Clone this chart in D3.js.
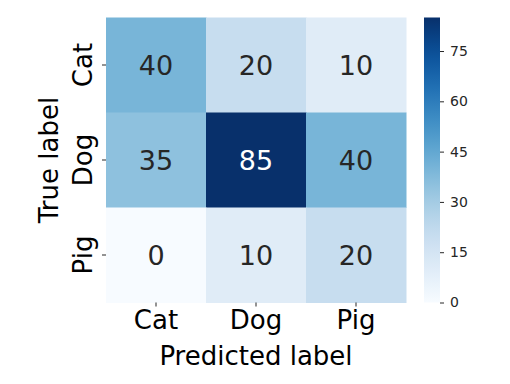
<!DOCTYPE html>
<html>
<head>
<meta charset="utf-8">
<script src="https://cdn.jsdelivr.net/npm/d3@7"></script>
<style>
  body { margin: 0; background: #fff; }
  text { font-family: "DejaVu Sans", sans-serif; }
</style>
</head>
<body>
<script>
// confusion matrix data
const labels = ["Cat", "Dog", "Pig"];
const matrix = [
    [40, 20, 10],
    [35, 85, 40],
    [0, 10, 20]
];
const cbarTicks = [0, 15, 30, 45, 60, 75];

const W = 510, H = 384;
const plot = { left: 106, top: 17.5, width: 300, height: 285 };
const cbar = { left: 424, width: 16 };

const svg = d3.select("body").append("svg")
    .attr("width", W)
    .attr("height", H);

const x = d3.scaleBand().domain(labels).range([plot.left, plot.left + plot.width]);
const y = d3.scaleBand().domain(labels).range([plot.top, plot.top + plot.height]);
const vmax = 85;
const color = d3.scaleSequential(d3.interpolateBlues).domain([0, vmax]);

const cells = [];
matrix.forEach((row, i) => row.forEach((v, j) => cells.push({ t: labels[i], p: labels[j], v })));

svg.append("g").selectAll("rect")
    .data(cells)
    .join("rect")
    .attr("x", d => x(d.p))
    .attr("y", d => y(d.t))
    .attr("width", x.bandwidth() + 0.5)
    .attr("height", y.bandwidth() + 0.5)
    .attr("fill", d => color(d.v));

svg.append("g").selectAll("text")
    .data(cells)
    .join("text")
    .attr("x", d => x(d.p) + x.bandwidth() / 2)
    .attr("y", d => y(d.t) + y.bandwidth() / 2)
    .attr("dy", "0.36em")
    .attr("text-anchor", "middle")
    .attr("font-size", 27)
    .attr("fill", d => d.v > vmax * 0.6 ? "#ffffff" : "#262626")
    .text(d => d.v);

// x axis
const xAxis = svg.append("g")
    .attr("transform", `translate(0,${plot.top + plot.height})`)
    .call(d3.axisBottom(x).tickSize(4).tickPadding(4));
xAxis.select(".domain").remove();
xAxis.selectAll(".tick line").attr("stroke", "#262626");
xAxis.selectAll(".tick text")
    .attr("font-size", 26)
    .attr("fill", "#000")
    .attr("font-family", "DejaVu Sans");

// y axis, rotated labels
const yAxis = svg.append("g")
    .attr("transform", `translate(${plot.left},0)`)
    .call(d3.axisLeft(y).tickSize(4));
yAxis.select(".domain").remove();
yAxis.selectAll(".tick line").attr("stroke", "#262626");
yAxis.selectAll(".tick text")
    .attr("font-size", 26)
    .attr("fill", "#000")
    .attr("font-family", "DejaVu Sans")
    .attr("text-anchor", "middle")
    .attr("x", null)
    .attr("dy", null)
    .attr("transform", "translate(-14,0) rotate(-90)");

svg.append("text")
    .attr("x", plot.left + plot.width / 2)
    .attr("y", 365)
    .attr("text-anchor", "middle")
    .attr("font-size", 26)
    .text("Predicted label");

svg.append("text")
    .attr("transform", `translate(58,${plot.top + plot.height / 2}) rotate(-90)`)
    .attr("text-anchor", "middle")
    .attr("font-size", 26)
    .text("True label");

// colorbar
const cy = d3.scaleLinear().domain([0, vmax]).range([plot.top + plot.height, plot.top]);
const defs = svg.append("defs");
const grad = defs.append("linearGradient")
    .attr("id", "cbar")
    .attr("x1", 0).attr("y1", 1).attr("x2", 0).attr("y2", 0);
d3.range(0, 1.0001, 0.05).forEach(t => {
    grad.append("stop")
        .attr("offset", t)
        .attr("stop-color", color(t * vmax));
});
svg.append("rect")
    .attr("x", cbar.left)
    .attr("y", plot.top)
    .attr("width", cbar.width)
    .attr("height", plot.height)
    .attr("fill", "url(#cbar)");

const cAxis = svg.append("g")
    .attr("transform", `translate(${cbar.left + cbar.width},0)`)
    .call(d3.axisRight(cy).tickValues(cbarTicks).tickSize(4).tickPadding(6));
cAxis.select(".domain").remove();
cAxis.selectAll(".tick line").attr("stroke", "#262626");
cAxis.selectAll(".tick text")
    .attr("font-size", 14)
    .attr("fill", "#262626")
    .attr("font-family", "DejaVu Sans");
</script>
</body>
</html>
